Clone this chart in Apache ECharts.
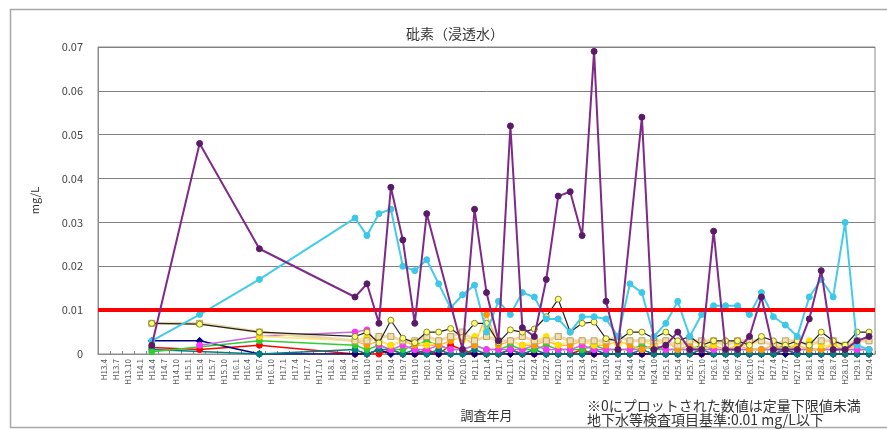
<!DOCTYPE html>
<html><head><meta charset="utf-8">
<script src="https://cdn.jsdelivr.net/npm/echarts@6/dist/echarts.min.js"></script>
<style>html,body{margin:0;padding:0;background:#fff}#c{width:887px;height:430px}</style>
</head><body><div id="c"></div>
<script>
const categories = ['H13.4','H13.7','H13.10','H14.1','H14.4','H14.7','H14.10','H15.1','H15.4','H15.7','H15.10','H16.1','H16.4','H16.7','H16.10','H17.1','H17.4','H17.7','H17.10','H18.1','H18.4','H18.7','H18.10','H19.1','H19.4','H19.7','H19.10','H20.1','H20.4','H20.7','H20.10','H21.1','H21.4','H21.7','H21.10','H22.1','H22.4','H22.7','H22.10','H23.1','H23.4','H23.7','H23.10','H24.1','H24.4','H24.7','H24.10','H25.1','H25.4','H25.7','H25.10','H26.1','H26.4','H26.7','H26.10','H27.1','H27.4','H27.7','H27.10','H28.1','H28.4','H28.7','H28.10','H29.1','H29.4'];
const earlyIdx = [4, 8, 13];
const denseStart = 21;
const yTicks = [0, 0.01, 0.02, 0.03, 0.04, 0.05, 0.06, 0.07];
const standard = 0.01;

const purpleEarly = [0.002, 0.048, 0.024];
const purpleDense = [0.013,0.016,0.007,0.038,0.026,0.007,0.032,null,null,0.001,0.033,0.014,0.003,0.052,0.006,0.004,0.017,0.036,0.037,0.027,0.069,0.012,0.001,null,0.054,0.001,0.002,0.005,0.001,0.001,0.028,0.001,0.001,0.004,0.013,0.001,0.001,0.001,0.008,0.019,0.001,0.001,0.003,0.004];
const cyanEarly = [0.003, 0.009, 0.017];
const cyanDense = [0.031,0.027,0.032,0.033,0.020,0.019,0.0215,0.016,0.0105,0.0135,0.0157,0.005,0.012,0.009,0.014,0.013,0.008,0.008,0.005,0.0085,0.0085,0.008,0.004,0.016,0.014,0.004,0.007,0.012,0.004,0.009,0.011,0.011,0.011,0.009,0.014,0.0085,0.0066,0.004,0.013,0.017,0.013,0.030,0.002,0.001];
const blackEarly = [0.007, 0.0068, 0.005];
const blackDense = [0.004,0.005,0.0025,0.0077,0.0036,0.0026,0.005,0.005,0.0058,0.0038,0.007,0.007,0.0026,0.0055,0.005,0.0057,0.0085,0.0125,0.005,0.007,0.0073,0.0035,0.003,0.005,0.005,0.0036,0.005,0.003,0.004,0.002,0.003,0.003,0.003,0.002,0.004,0.003,0.002,0.003,0.002,0.005,0.003,0.002,0.005,0.005];
const beigeEarly = [0.007, 0.007, 0.005];
const beigeDense = [0.003,0.003,0.004,0.004,0.003,0.003,0.004,0.003,0.004,0.005,0.003,0.004,0.003,0.003,0.004,0.003,0.003,0.004,0.003,0.003,0.003,0.003,0.004,0.003,0.003,0.003,0.003,0.002,0.003,0.003,0.003,0.002,0.003,0.003,0.003,0.002,0.003,0.003,0.002,0.003,0.003,0.002,0.003,0.003];
const yellowEarly = [null, null, 0.004];
const yellowDense = [0.003,0.004,0.003,0.002,0.003,0.003,0.002,0.003,0.004,0.003,0.004,0.006,0.003,0.003,0.002,0.003,0.004,0.002,0.003,0.003,0.002,0.003,0.002,0.003,0.003,0.002,0.003,0.002,0.003,0.002,0.002,0.003,0.002,0.002,0.003,0.002,0.002,0.002,0.003,0.002,0.002,0.002,0.003,0.003];
const orangeEarly = [null, null, 0.005];
const orangeDense = [0.003,0.002,0.003,0.002,0.003,0.002,0.002,0.002,0.003,0.004,0.002,0.009,0.002,0.003,0.002,0.002,0.003,0.002,0.002,0.003,0.002,0.002,0.003,0.002,0.001,0.002,0.003,0.001,0.002,0.001,0.002,0.001,0.002,0.001,0.001,0.002,0.001,0.002,0.001,0.001,0.002,0.001,0.002,0.001];
const magentaEarly = [null, 0.002, 0.004];
const magentaDense = [0.005,0.0055,0.002,0.001,0.002,0.001,0.001,0.002,0.001,0.001,0.002,0.001,0.001,0.001,0.001,0.002,0.001,0.001,0.001,0.002,0.001,0.001,0.001,0.001,0.001,0.002,0.001,0.001,0.001,0.001,0.001,0.001,0.001,0.001,0.001,0.001,0.001,0.001,0.001,0.001,0.001,0.001,0.001,0.001];
const greenEarly = [0.0005, null, 0.003];
const greenDense = [0.002,0.001,0.002,0.001,0.001,0.002,0.003,0.002,0.001,0.001,0.002,0.001,0.001,0.002,0.001,0.001,0.002,0.001,0.001,0.001,0.002,0.001,0.001,0.001,0.002,0.001,0.001,0.001,0.001,0.002,0.001,0.001,0.001,0.001,0.001,0.001,0.002,0.001,0.001,0.001,0.001,0.001,0.001,0.001];
const tealEarly = [0.001, null, 0];
const tealDense = [0.001,0,0.001,0.001,0,0.001,0,0.001,0,0,0.001,0,0,0.001,0,0.001,0,0,0,0,0.001,0,0,0,0.001,0,0,0,0,0.001,0,0,0,0,0,0,0.001,0,0,0,0,0,0,0];
const navyEarly = [0.003, 0.003, 0];
const navyDense = [0,0,0.001,0,0,0,0,0,0,0,0,0,0,0,0,0,0,0,0,0,0,0,0,0,0,0,0,0,0,0,0,0,0,0,0,0,0,0,0,0,0,0,0,0];
const redEarly = [0.0015, 0.001, 0.002];
const redDense = [0,0,0,0.001,0,0,0.001,0,0.002,0.001,0,0,0,0.001,0,0,0,0,0,0.001,0,0,0,0,0,0,0,0,0,0,0,0,0,0,0,0,0.001,0,0,0,0,0,0,0];

function full(early, dense) {
  const a = categories.map(() => null);
  earlyIdx.forEach((k, i) => { a[k] = early[i]; });
  dense.forEach((v, i) => { a[denseStart + i] = v; });
  return a;
}

function mk(name, early, dense, color, opts) {
  opts = opts || {};
  return Object.assign({
    name: name, type: 'line', data: full(early, dense), connectNulls: true,
    symbol: opts.symbol || 'circle', symbolSize: opts.size || 6,
    lineStyle: { color: opts.line || color, width: opts.width || 1.5 },
    itemStyle: { color: color, borderColor: opts.border || color, borderWidth: 1 },
    animation: false, z: opts.z || 2
  }, opts.extra || {});
}

const chart = echarts.init(document.getElementById('c'), null, { renderer: 'canvas' });
const FF = '"Noto Sans CJK JP", "Noto Sans", sans-serif';

const series = [
  mk('地点K', redEarly, redDense, '#FF0000', { extra: { markLine: {
      silent: true, symbol: 'none', label: { show: false },
      lineStyle: { color: '#FF0000', width: 4, type: 'solid' },
      data: [{ yAxis: standard }] } } }),
  mk('地点J', navyEarly, navyDense, '#000080', { symbol: 'diamond', size: 7 }),
  mk('地点I', tealEarly, tealDense, '#008080'),
  mk('地点H', greenEarly, greenDense, '#33CC33'),
  mk('地点G', magentaEarly, magentaDense, '#FF33FF', { line: '#CC66DD' }),
  mk('地点F', orangeEarly, orangeDense, '#FF9900', { line: '#FFB84D' }),
  mk('地点E', yellowEarly, yellowDense, '#FFE000', { line: '#FFE97A' }),
  mk('地点D', beigeEarly, beigeDense, '#F2DFB0', { symbol: 'rect', line: '#EED9A6', width: 3, border: '#B8A060' }),
  mk('地点C', blackEarly, blackDense, '#FFFF80', { line: '#222222', width: 1.2, border: '#8A8A20', z: 3 }),
  mk('地点B', cyanEarly, cyanDense, '#3CC8E8', { line: '#45CBEA', width: 2, z: 4 }),
  mk('地点A', purpleEarly, purpleDense, '#5A1A68', { line: '#7F2A88', width: 2, z: 5 })
];

chart.setOption({
  animation: false,
  textStyle: { fontFamily: FF },
  title: { text: '砒素（浸透水）', left: 450, top: 22, textAlign: 'center',
    textStyle: { fontSize: 14, fontWeight: 'normal', color: '#333', fontFamily: FF } },
  grid: { left: 98, right: 12, top: 47, bottom: 76, show: true, borderColor: '#8C8C8C', borderWidth: 1, backgroundColor: '#fff' },
  xAxis: {
    type: 'category', data: categories, boundaryGap: true,
    name: '調査年月', nameLocation: 'middle', nameGap: 55,
    nameTextStyle: { fontSize: 13, color: '#333', padding: [0, 0, 0, 0] },
    axisLine: { lineStyle: { color: '#8C8C8C', width: 1 } },
    axisTick: { show: true, inside: true, length: 3, interval: 0, lineStyle: { color: '#888' } },
    axisLabel: { interval: 0, rotate: 90, fontSize: 8, color: '#555', margin: 5 },
    splitLine: { show: false }
  },
  yAxis: {
    type: 'value', min: yTicks[0], max: yTicks[yTicks.length - 1], interval: 0.01,
    name: 'mg/L', nameLocation: 'middle', nameRotate: 90, nameGap: 58,
    nameTextStyle: { fontSize: 11, color: '#333' },
    axisLine: { show: true, lineStyle: { color: '#8C8C8C' } },
    axisTick: { show: false },
    axisLabel: { fontSize: 11, color: '#444', margin: 15,
      formatter: v => (Math.abs(v) < 1e-9 ? '0' : v.toFixed(2)) },
    splitLine: { show: true, lineStyle: { color: '#808080', width: 1 } }
  },
  graphic: [
    { type: 'rect', shape: { x: 10.5, y: 9.5, width: 890, height: 418 }, style: { fill: 'none', stroke: '#A8A8A8', lineWidth: 1.5 }, z: -10, silent: true },
    { type: 'text', left: 587, top: 399, style: { text: '※0にプロットされた数値は定量下限値未満', fontSize: 14, fill: '#333', fontFamily: FF } },
    { type: 'text', left: 587, top: 413, style: { text: '地下水等検査項目基準:0.01 mg/L以下', fontSize: 14, fill: '#333', fontFamily: FF } }
  ],
  series: series
});
</script></body></html>
